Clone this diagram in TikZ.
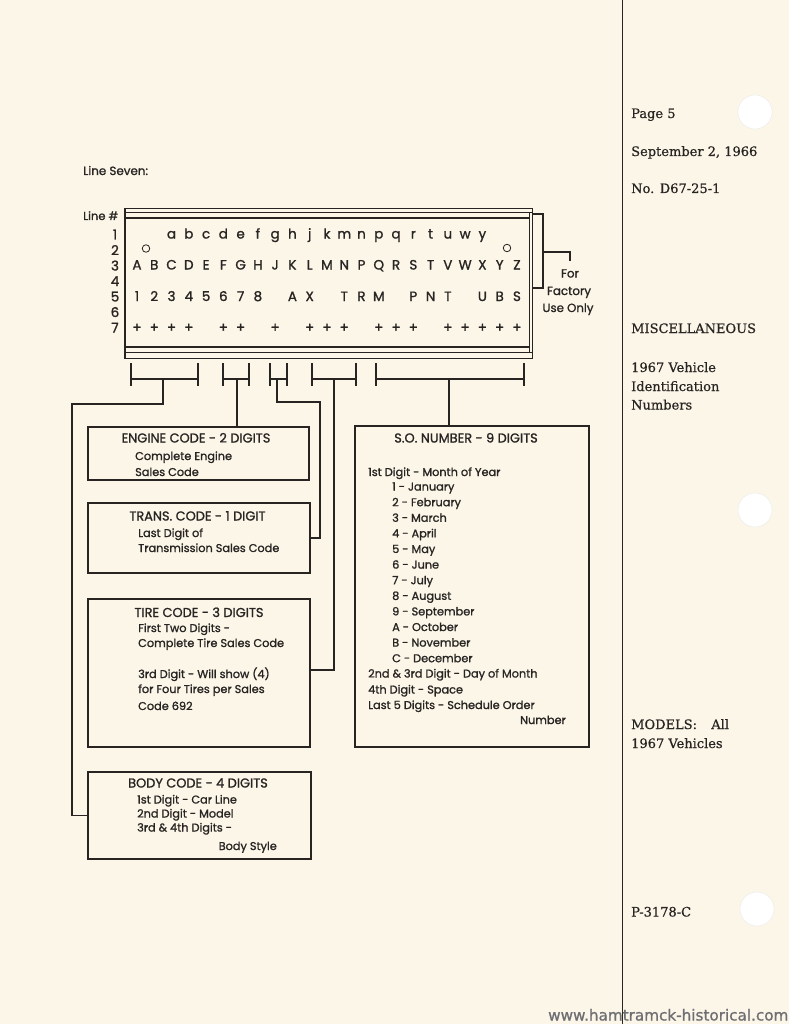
\documentclass[tikz,border=0pt]{standalone}
\usepackage{fontspec}
\setmainfont{DejaVu Serif}[FakeBold=0.6]
\newfontfamily\fut{Poppins}[FakeBold=1.2]
\newfontfamily\wmfont{DejaVu Sans}[FakeBold=1]
\definecolor{paper}{RGB}{251,246,232}
\definecolor{ink}{RGB}{40,36,34}
\definecolor{wm}{RGB}{110,110,115}
\begin{document}
\begin{tikzpicture}[x=1pt,y=-1pt,
  ln/.style={draw=ink, line width=1.1pt},
  box/.style={draw=ink, line width=1.2pt, anchor=north west, inner sep=0pt, outer sep=0pt},
  tx/.style={font=\fut\fontsize{11.3}{13}\selectfont, text=ink, inner sep=0pt, anchor=base west},
  ttl/.style={font=\fut\fontsize{12.9}{14}\selectfont, text=ink, inner sep=0pt, anchor=base},
  card/.style={font=\fut\fontsize{13.5}{15}\selectfont, text=ink, inner sep=0pt, anchor=base},
  ser/.style={font=\fontsize{13}{15}\selectfont, text=ink, inner sep=0pt, anchor=base west},
  hole/.style={circle, fill=white, draw=black!8, line width=0.4pt, minimum size=34pt, inner sep=0pt}]
\useasboundingbox (0,0) rectangle (789,1024);
\fill[paper] (0,0) rectangle (789,1024);

% page divider
\draw[ink, line width=1.4pt] (622.5,0) -- (622.5,1024);

% holes
\node[hole] (hole1) at (755,112) {};
\node[hole] (hole2) at (755,510) {};
\node[hole] (hole3) at (757,909) {};

% headings
\node[tx, font=\fut\fontsize{11.9}{13}\selectfont] (l7) at (83,175) {Line Seven:};
\node[tx, font=\fut\fontsize{11.5}{13}\selectfont] (lnum) at (83,220) {Line \#};

% card frame
\node[draw=ink, line width=1.3pt, minimum width=408pt, minimum height=150pt, anchor=north west, inner sep=0pt] (card) at (124,208) {};
\draw[ink, line width=1pt] (124,213) -- (532,213);
\draw[ink, line width=1.3pt] (124,218) -- (529,218);
\draw[ink, line width=1.3pt] (124,347) -- (529,347);
\draw[ink, line width=1pt] (124,352) -- (532,352);
\draw[ink, line width=1pt] (529,213) -- (529,352);
\draw[ink, line width=2.2pt] (125,208) -- (125,358);

% line numbers
\foreach \n in {1,...,7}
  \node[card] (ln-\n) at (115,{239.5+15.5*(\n-1)}) {\n};

% row 1
\foreach \c [count=\i from 2] in {a,b,c,d,e,f,g,h,j,k,m,n,p,q,r,t,u,w,y}
  \node[card] (r1-\i) at ({137+17.27*\i},238.5) {\c};
% row 2 circles
\node[circle, draw=ink, line width=0.8pt, minimum size=7.5pt, inner sep=0pt] (o1) at (146,248.5) {};
\node[circle, draw=ink, line width=0.8pt, minimum size=7.5pt, inner sep=0pt] (o2) at (507,248) {};
% row 3
\foreach \c [count=\i from 0] in {A,B,C,D,E,F,G,H,J,K,L,M,N,P,Q,R,S,T,V,W,X,Y,Z}
  \node[card] (r3-\i) at ({137+17.27*\i},269.5) {\c};
% row 5
\foreach \i/\c in {0/1,1/2,2/3,3/4,4/5,5/6,6/7,7/8,9/A,10/X,12/T,13/R,14/M,16/P,17/N,18/T,20/U,21/B,22/S}
  \node[card] (r5-\i) at ({137+17.27*\i},301) {\c};
% row 7
\foreach \i in {0,1,2,3,5,6,8,10,11,12,14,15,16,18,19,20,21,22}
  \node[card, anchor=center] (r7-\i) at ({137+17.27*\i},328) {+};

% factory bracket
\coordinate (fa) at (532,214);
\coordinate (fb) at (532,288);
\coordinate (fs) at (543,252);
\coordinate (fe) at (570,261);
\draw[ln] (fa) -| (543,288) -- (fb);
\draw[ln] (fs) -| (fe);
\node[ttl, font=\fut\fontsize{11.8}{13}\selectfont] (for1) at (570,277.5) {For};
\node[ttl, font=\fut\fontsize{11.8}{13}\selectfont] (for2) at (569,295) {Factory};
\node[ttl, font=\fut\fontsize{11.8}{13}\selectfont] (for3) at (568,312) {Use Only};

% brackets under card
\draw[ln] (131,363)--(131,386) (198,363)--(198,386) (131,379)--(198,379);
\draw[ln] (223,363)--(223,386) (249,363)--(249,386) (223,379)--(249,379);
\draw[ln] (270,363)--(270,386) (287,363)--(287,386) (270,379)--(287,379);
\draw[ln] (312,363)--(312,386) (356,363)--(356,386) (312,379)--(356,379);
\draw[ln] (376,363)--(376,386) (524,363)--(524,386) (376,379)--(524,379);
\coordinate (b1) at (163,379);
\coordinate (b2) at (237,379);
\coordinate (b3) at (277,379);
\coordinate (b4) at (334,379);
\coordinate (b5) at (449,379);

% boxes
\node[box, minimum width=221pt, minimum height=53pt] (eng) at (88,427) {};
\node[box, minimum width=222pt, minimum height=70pt] (trans) at (88,503) {};
\node[box, minimum width=222pt, minimum height=148pt] (tire) at (88,599) {};
\node[box, minimum width=223pt, minimum height=87pt] (body) at (88,772) {};
\node[box, minimum width=234pt, minimum height=321pt] (so) at (355,426) {};

% connectors
\draw[ln] (b1) |- (72,404) |- (body.west);
\draw[ln] (b2) -- (b2 |- eng.north);
\draw[ln] (b3) |- (320,402) |- (trans.east);
\draw[ln] (b4) |- ([yshift=3pt]tire.east);
\draw[ln] (b5) -- (b5 |- so.north);

% engine text
\node[ttl] (engT) at (196,442.5) {ENGINE CODE - 2 DIGITS};
\node[tx] (eng1) at (135,460) {Complete Engine};
\node[tx] (eng2) at (135,476) {Sales Code};
% trans text
\node[ttl] (trT) at (197.5,520.5) {TRANS. CODE - 1 DIGIT};
\node[tx] (tr1) at (138,537) {Last Digit of};
\node[tx] (tr2) at (138,552) {Transmission Sales Code};
% tire text
\node[ttl] (tiT) at (199,617) {TIRE CODE - 3 DIGITS};
\node[tx] (ti1) at (138,632) {First Two Digits -};
\node[tx] (ti2) at (138,647) {Complete Tire Sales Code};
\node[tx] (ti3) at (138,678) {3rd Digit - Will show (4)};
\node[tx] (ti4) at (138,693) {for Four Tires per Sales};
\node[tx] (ti5) at (138,710) {Code 692};
% body text
\node[ttl] (boT) at (198,787.5) {BODY CODE - 4 DIGITS};
\node[tx] (bo1) at (137,803.5) {1st Digit - Car Line};
\node[tx] (bo2) at (137,817.5) {2nd Digit - Model};
\node[tx] (bo3) at (137,831.5) {3rd \& 4th Digits -};
\node[tx, anchor=base east] (bo4) at (277,850) {Body Style};
% S.O. text
\node[ttl] (soT) at (466,442.5) {S.O. NUMBER - 9 DIGITS};
\node[tx] (so0) at (368,476) {1st Digit - Month of Year};
\foreach \t [count=\k from 1] in {{1 - January},{2 - February},{3 - March},{4 - April},{5 - May},{6 - June},{7 - July},{8 - August},{9 - September},{A - October},{B - November},{C - December}}
  \node[tx] (som-\k) at (392,{475+15.6*\k}) {\t};
\node[tx] (so13) at (368,677.5) {2nd \& 3rd Digit - Day of Month};
\node[tx] (so14) at (368,693.5) {4th Digit - Space};
\node[tx] (so15) at (368,709) {Last 5 Digits - Schedule Order};
\node[tx, anchor=base east] (so16) at (566,724) {Number};

% right column
\node[ser] (pg) at (631,118) {Page 5};
\node[ser] (dt) at (631,156) {September 2, 1966};
\node[ser] (no) at (631,193) {No. D67-25-1};
\node[ser] (misc) at (631,333) {MISCELLANEOUS};
\node[ser] (v1) at (631,372) {1967 Vehicle};
\node[ser] (v2) at (631,391) {Identification};
\node[ser] (v3) at (631,409.5) {Numbers};
\node[ser] (m1) at (631,729) {MODELS:\hspace{1.1em}All};
\node[ser] (m2) at (631,748) {1967 Vehicles};
\node[ser] (pn) at (631,916.5) {P-3178-C};

% watermark
\node[anchor=base west, inner sep=0pt, text=wm, font=\wmfont\fontsize{15.2}{17}\selectfont] (wmk) at (548,1020.5) {www.hamtramck-historical.com};
\end{tikzpicture}
\end{document}
